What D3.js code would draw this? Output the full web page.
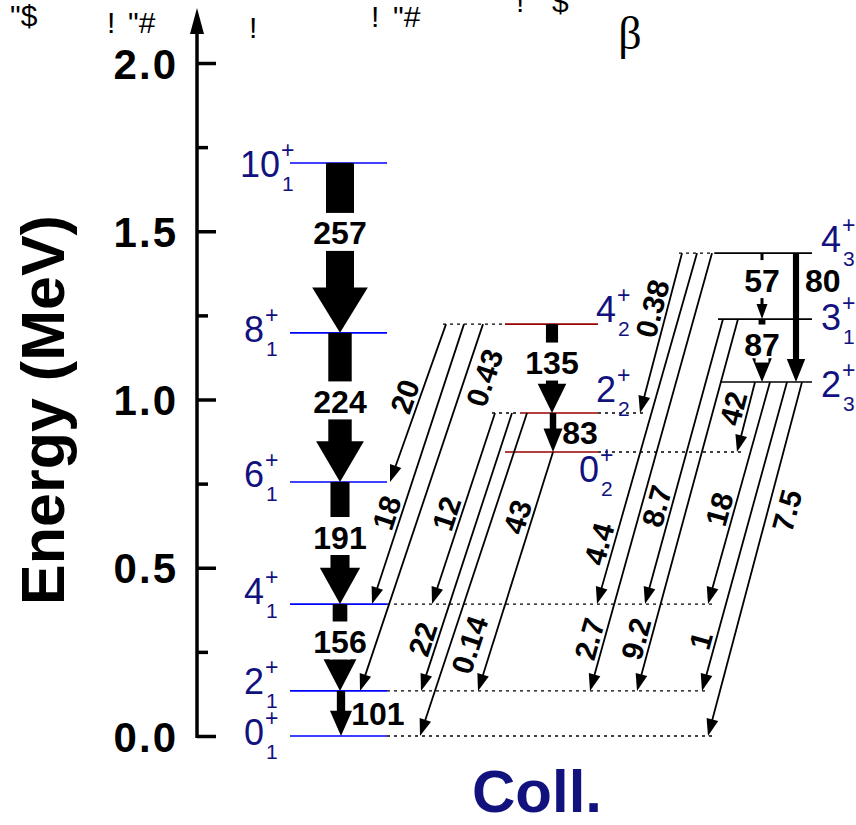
<!DOCTYPE html>
<html>
<head>
<meta charset="utf-8">
<script src="https://cdn.jsdelivr.net/npm/d3@7"></script>
<style>
  body { margin: 0; background: #fff; }
  svg { display: block; }
</style>
</head>
<body>
<svg class="scheme" width="856" height="825"></svg>
<script>
// ---- data ----
// levels: name, spin, index, energy (MeV), band
const levelNames    = ['0_1', '2_1', '4_1', '6_1', '8_1', '10_1', '4_2', '2_2', '0_2', '4_3', '3_1', '2_3'];
const levelSpins    = ['0', '2', '4', '6', '8', '10', '4', '2', '0', '4', '3', '2'];
const levelIdx      = ['1', '1', '1', '1', '1', '1', '2', '2', '2', '3', '1', '3'];
const levelEnergies = [0, 0.134, 0.392, 0.755, 1.198, 1.703, 1.224, 0.960, 0.844, 1.435, 1.239, 1.052];
const levelBands    = ['gsb', 'gsb', 'gsb', 'gsb', 'gsb', 'gsb', 'beta', 'beta', 'beta', 'gam', 'gam', 'gam'];

// in-band (vertical) transitions, B(E2) W.u.
const inbandFrom = ['10_1', '8_1', '6_1', '4_1', '2_1', '4_2', '2_2', '4_3', '3_1', '4_3'];
const inbandTo   = ['8_1', '6_1', '4_1', '2_1', '0_1', '2_2', '0_2', '3_1', '2_3', '2_3'];
const inbandBE2  = [257, 224, 191, 156, 101, 135, 83, 57, 87, 80];

// inter-band (slanted) transitions
const interFrom  = ['4_2', '4_2', '4_2', '2_2', '2_2', '2_2', '0_2', '4_3', '4_3', '4_3', '3_1', '3_1', '2_3', '2_3', '2_3', '2_3'];
const interTo    = ['6_1', '4_1', '2_1', '4_1', '2_1', '0_1', '2_1', '2_2', '4_1', '2_1', '4_1', '2_1', '0_2', '4_1', '2_1', '0_1'];
const interLabel = ['20', '18', '0.43', '12', '22', '0.14', '43', '0.38', '4.4', '2.7', '8.7', '9.2', '42', '18', '1', '7.5'];

// axis ticks
const majorTicks = [0, 0.5, 1.0, 1.5, 2.0];
const minorTicks = [0.25, 0.75, 1.25, 1.75];

// stray glyphs along the top edge of the original figure
const topGlyphs = ['"$', '!', '"#', '!', '!', '"#', '!', '$'];

// ---- layout (kept apart from the data) ----
const x = d3.scaleLinear().domain([0, 856]).range([0, 856]);   // layout units
const y = d3.scaleLinear().domain([0, 2]).range([736, 63]);
const bw = d3.scalePow().exponent(1.3).domain([0, 257]).range([0, 28]);

const FONT = "Arial, 'Liberation Sans', sans-serif";
const NAVY = '#12127e';

const bandColor = { gsb: '#0000ff', beta: '#990000', gam: '#000000' };
const bandSpan  = { gsb: [290, 387], beta: [505, 598], gam: [715, 812] };
const spanFix   = { '2_2': [520, 598], '3_1': [718, 812], '2_3': [720, 812] };
const labelPos  = {
  '0_1': [244, 9], '2_1': [244, 3], '4_1': [244, 0], '6_1': [244, 5], '8_1': [244, 9], '10_1': [240, 14],
  '4_2': [596, -2], '2_2': [596, -11], '0_2': [579, 30],
  '4_3': [821, -1], '3_1': [821, 11], '2_3': [821, 15]
};

const inbandX     = [340, 340, 340, 340, 341, 552, 553, 762, 762, 796];
const inbandSide  = ['mid', 'mid', 'mid', 'mid', 'right', 'mid', 'right', 'mid', 'mid', 'right'];
const inbandLabAt = [-9, 0, 0, 0, 0, 0, 0, 0, 0, 0];   // extra shift for mid labels
const inbandFrac  = [0.5, 0.5, 0.5, 0.5, 0.5, 0.5, 0.5, 0.5, 0.5, 0.21];

const interX0   = [446, 464, 483, 495, 512, 527, 553, 682, 697, 712, 723, 738, 755, 770, 787, 802];
const interX1   = [390, 372, 360, 432, 421, 420, 478, 640, 597, 590, 645, 637, 737, 708, 702, 708];
const interT    = [0.49, 0.69, 0.13, 0.55, 0.83, 0.70, 0.29, 0.37, 0.84, 0.89, 0.67, 0.87, 0.43, 0.59, 0.85, 0.35];
const interSide = ['L', 'L', 'R', 'L', 'L', 'R', 'L', 'L', 'L', 'L', 'L', 'L', 'L', 'L', 'L', 'R'];

const topGlyphPos = [[10, 26], [107, 33], [128, 33], [249, 38], [371, 27], [393, 27], [516, 12], [552, 12]];

// ---- build ----
const svg = d3.select('svg.scheme');

const levels = levelNames.map((n, i) => ({
  name: n, J: levelSpins[i], k: levelIdx[i], E: levelEnergies[i], band: levelBands[i],
  span: spanFix[n] || bandSpan[levelBands[i]]
}));
const lev = Object.fromEntries(levels.map(d => [d.name, d]));

const inter = interFrom.map((f, i) => ({
  from: f, to: interTo[i], label: interLabel[i],
  x0: x(interX0[i]), x1: x(interX1[i]), t: interT[i], side: interSide[i],
  y0: y(lev[f].E), y1: y(lev[interTo[i]].E)
}));

const inband = inbandFrom.map((f, i) => ({
  from: f, to: inbandTo[i], v: inbandBE2[i], x: x(inbandX[i]), side: inbandSide[i],
  shift: inbandLabAt[i], frac: inbandFrac[i],
  y0: y(lev[f].E), y1: y(lev[inbandTo[i]].E)
}));

// top stray glyphs
svg.append('g').selectAll('text')
  .data(topGlyphs)
  .enter()
  .append('text')
  .attr('x', (d, i) => x(topGlyphPos[i][0]))
  .attr('y', (d, i) => topGlyphPos[i][1])
  .text(d => d)
  .style('font-family', FONT)
  .style('font-size', '30px')
  .style('fill', '#000');

svg.append('text')
  .attr('x', x(630)).attr('y', 49)
  .attr('text-anchor', 'middle')
  .text('β')
  .style('font-family', "'Liberation Serif', 'DejaVu Serif', serif")
  .style('font-size', '46px');

// axis
const axisX = x(197);
const axisG = svg.append('g').attr('class', 'axisGrp');
axisG.append('line')
  .attr('x1', axisX).attr('x2', axisX)
  .attr('y1', y(0) + 2).attr('y2', 28)
  .style('stroke', '#000').style('stroke-width', 3.5);
axisG.append('path')
  .attr('d', `M${axisX},8L${axisX - 7},34L${axisX + 7},34Z`)
  .style('fill', '#000');

const majG = axisG.append('g').attr('transform', `translate(${axisX},0)`)
  .call(d3.axisRight(y).tickValues(majorTicks).tickSize(19).tickSizeOuter(0).tickFormat(''));
const minG = axisG.append('g').attr('transform', `translate(${axisX},0)`)
  .call(d3.axisRight(y).tickValues(minorTicks).tickSize(11).tickSizeOuter(0).tickFormat(''));
[majG, minG].forEach(g => {
  g.select('.domain').remove();
  g.selectAll('line').style('stroke', '#000').style('stroke-width', 3.5);
});

const labG = axisG.append('g').attr('transform', `translate(${axisX},0)`)
  .call(d3.axisLeft(y).tickValues(majorTicks).tickSize(0).tickPadding(19).tickFormat(d3.format('.1f')));
labG.select('.domain').remove();
labG.selectAll('text')
  .attr('dy', '0.36em')
  .style('font-family', FONT)
  .style('font-weight', 'bold')
  .style('font-size', '42px')
  .style('letter-spacing', '2px')
  .style('fill', '#000');

svg.append('text')
  .attr('transform', `translate(64,410) rotate(-90)`)
  .attr('text-anchor', 'middle')
  .text('Energy (MeV)')
  .style('font-family', FONT)
  .style('font-weight', 'bold')
  .style('font-size', '61px');

svg.append('text')
  .attr('x', x(537)).attr('y', 812)
  .attr('text-anchor', 'middle')
  .text('Coll.')
  .style('font-family', FONT)
  .style('font-weight', 'bold')
  .style('font-size', '60px')
  .style('fill', NAVY);

// dotted extensions: reach the ends of slanted arrows
const dotG = svg.append('g').attr('class', 'dotGrp');
levels.forEach(L => {
  const xs = [];
  inter.forEach(d => {
    if (d.from === L.name) xs.push(d.x0);
    if (d.to === L.name) xs.push(d.x1);
  });
  if (!xs.length) return;
  const a = x(L.span[0]), b = x(L.span[1]);
  const lo = d3.min(xs), hi = d3.max(xs);
  const yy = y(L.E);
  if (lo < a - 4) dotG.append('line').attr('x1', lo - 3).attr('x2', a).attr('y1', yy).attr('y2', yy);
  if (hi > b + 6) dotG.append('line').attr('x1', b).attr('x2', hi + 6).attr('y1', yy).attr('y2', yy);
});
dotG.selectAll('line')
  .style('stroke', '#000')
  .style('stroke-width', 1.4)
  .style('stroke-dasharray', '3,4');

// level lines
svg.append('g').selectAll('line')
  .data(levels)
  .enter()
  .append('line')
  .attr('x1', d => x(d.span[0]))
  .attr('x2', d => x(d.span[1]))
  .attr('y1', d => y(d.E))
  .attr('y2', d => y(d.E))
  .style('stroke', d => bandColor[d.band])
  .style('stroke-width', 1.6);

// level labels
const labGrp = svg.append('g').attr('class', 'levLabels');
levels.forEach(L => {
  const [lx, ldy] = labelPos[L.name];
  const by = y(L.E) + ldy;
  const main = labGrp.append('text')
    .attr('x', x(lx)).attr('y', by)
    .text(L.J)
    .style('font-family', FONT)
    .style('font-size', '36px')
    .style('fill', NAVY);
  const w = main.node().getComputedTextLength();
  labGrp.append('text')
    .attr('x', x(lx) + w + 1).attr('y', by - 19)
    .text('+')
    .style('font-family', FONT).style('font-size', '23px').style('fill', NAVY);
  labGrp.append('text')
    .attr('x', x(lx) + w + 2).attr('y', by + 14)
    .text(L.k)
    .style('font-family', FONT).style('font-size', '21px').style('fill', NAVY);
});

// slanted arrows
const interG = svg.append('g').attr('class', 'interGrp');
inter.forEach(d => {
  const dx = d.x1 - d.x0, dy = d.y1 - d.y0, len = Math.hypot(dx, dy);
  const ux = dx / len, uy = dy / len;
  const hl = 17, hw = 6;
  const bx = d.x1 - ux * hl, by = d.y1 - uy * hl;
  interG.append('line')
    .attr('x1', d.x0).attr('y1', d.y0)
    .attr('x2', bx + ux * 3).attr('y2', by + uy * 3)
    .style('stroke', '#000').style('stroke-width', 1.8);
  interG.append('path')
    .attr('d', `M${d.x1},${d.y1}L${bx - uy * hw},${by + ux * hw}L${bx + uy * hw},${by - ux * hw}Z`)
    .style('fill', '#000');
  const px = d.x0 + dx * d.t, py = d.y0 + dy * d.t;
  const ang = Math.atan2(d.y0 - d.y1, d.x0 - d.x1) * 180 / Math.PI;
  interG.append('text')
    .attr('transform', `translate(${px},${py}) rotate(${ang})`)
    .attr('text-anchor', 'middle')
    .attr('dy', d.side === 'L' ? -4 : 29)
    .text(d.label)
    .style('font-family', FONT)
    .style('font-weight', 'bold')
    .style('font-size', '30px');
});

// vertical in-band arrows
const inG = svg.append('g').attr('class', 'inbandGrp');
inband.forEach(d => {
  const dashed = d.v === 57;
  const w = bw(d.v);
  const hw = dashed ? 11 : w * 1.7 + 8;
  const hl = dashed ? 15 : 0.6 * hw + 12;
  const yh = d.y1 - hl;
  if (dashed) {
    inG.append('line')
      .attr('x1', d.x).attr('x2', d.x).attr('y1', d.y0).attr('y2', yh + 1)
      .style('stroke', '#000').style('stroke-width', 3).style('stroke-dasharray', '10,5');
  } else {
    inG.append('rect')
      .attr('x', d.x - w / 2).attr('y', d.y0)
      .attr('width', w).attr('height', yh - d.y0 + 1)
      .style('fill', '#000');
  }
  inG.append('path')
    .attr('d', `M${d.x - hw / 2},${yh}L${d.x + hw / 2},${yh}L${d.x},${d.y1}Z`)
    .style('fill', '#000');

  if (d.side === 'mid') {
    const ly = (d.y0 + d.y1) / 2 - 6 + d.shift;
    inG.append('rect')
      .attr('x', d.x - Math.max(w, 4) / 2 - 3).attr('y', ly - 20)
      .attr('width', Math.max(w, 4) + 6).attr('height', 38)
      .style('fill', '#fff');
    inG.append('text')
      .attr('x', d.x).attr('y', ly)
      .attr('dy', '0.36em')
      .attr('text-anchor', 'middle')
      .text(d.v)
      .style('font-family', FONT).style('font-weight', 'bold').style('font-size', '32px');
  } else {
    const ly = d.y0 + (d.y1 - d.y0) * d.frac;
    inG.append('text')
      .attr('x', d.x + w / 2 + 6).attr('y', ly)
      .attr('dy', '0.36em')
      .text(d.v)
      .style('font-family', FONT).style('font-weight', 'bold').style('font-size', '32px');
  }
});
</script>
</body>
</html>
